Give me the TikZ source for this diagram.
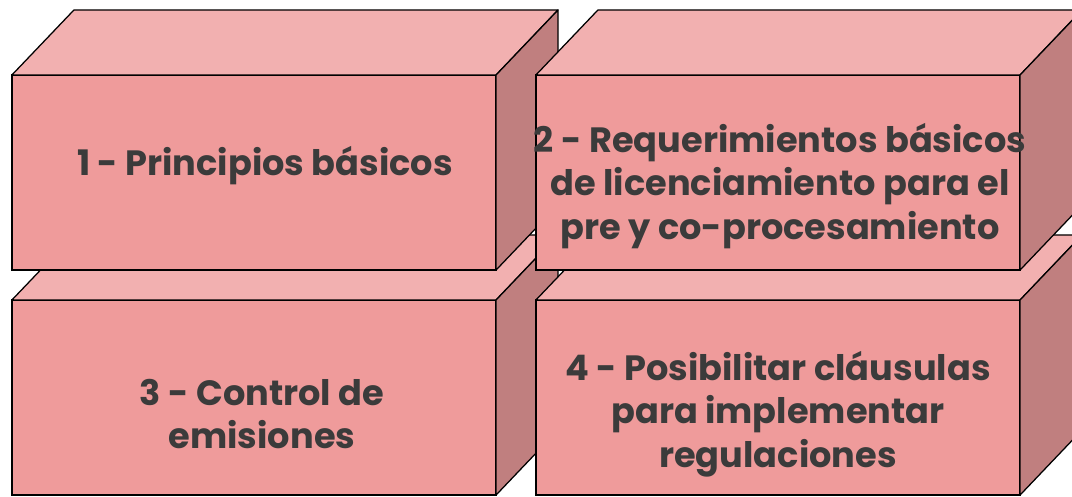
\documentclass[tikz,border=0pt]{standalone}
\usepackage{fontspec}
\newfontfamily\gothic{Poppins}
\usepackage{xcolor}
\usetikzlibrary{positioning, calc}

\definecolor{frontpink}{HTML}{EF9B9B}
\definecolor{toppink}{HTML}{F2B0B0}
\definecolor{sidepink}{HTML}{C07F7F}
\definecolor{textgray}{HTML}{3B3B3B}

\begin{document}
\begin{tikzpicture}[
        x=0.025cm, y=-0.025cm,
        front/.style={rectangle, draw, fill=frontpink, line width=0.9pt, inner sep=0pt, outer sep=0pt, minimum width=12.1cm, minimum height=4.875cm},
        topface/.style={draw, fill=toppink, line width=0.9pt, line join=round},
        sideface/.style={draw, fill=sidepink, line width=0.9pt, line join=round},
        blocktext/.style={align=center, text=textgray, font=\gothic\bfseries\fontsize{25}{31}\selectfont}
    ]

        \clip (0,0) rectangle (1072,496);

        % --- Bottom row ---
        \node[front] (B3) at (254,397.5) {};
        \filldraw[topface] (B3.north west) -- ++(62,-65) -- ++(484,0) -- (B3.north east) -- cycle;
        \filldraw[sideface] (B3.north east) -- ++(62,-65) -- ++(0,195) -- (B3.south east) -- cycle;
        \node[blocktext] (T3) at (262,414) {3 - Control de\\emisiones};

        \node[front] (B4) at (778,397.5) {};
        \filldraw[topface] (B4.north west) -- ++(62,-65) -- ++(484,0) -- (B4.north east) -- cycle;
        \filldraw[sideface] (B4.north east) -- ++(62,-65) -- ++(0,195) -- (B4.south east) -- cycle;
        \node[blocktext] (T4) at (778,414) {4 - Posibilitar cláusulas\\para implementar\\regulaciones};

        % --- Top row ---
        \node[front] (B1) at (254,172.5) {};
        \filldraw[topface] (B1.north west) -- ++(62,-65) -- ++(484,0) -- (B1.north east) -- cycle;
        \filldraw[sideface] (B1.north east) -- ++(62,-65) -- ++(0,195) -- (B1.south east) -- cycle;
        \node[blocktext] (T1) at (265,166) {1 - Principios básicos};

        \node[front] (B2) at (778,172.5) {};
        \filldraw[topface] (B2.north west) -- ++(62,-65) -- ++(484,0) -- (B2.north east) -- cycle;
        \filldraw[sideface] (B2.north east) -- ++(62,-65) -- ++(0,195) -- (B2.south east) -- cycle;
        \node[blocktext] (T2) at (780,186) {2 - Requerimientos básicos\\de licenciamiento para el\\pre y co-procesamiento};

    \end{tikzpicture}
\end{document}
